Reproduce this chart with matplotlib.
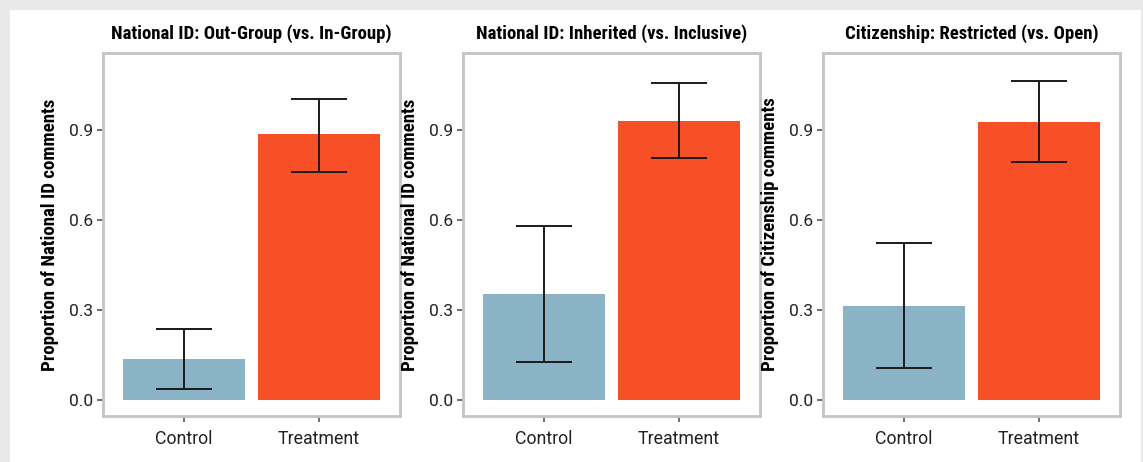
import matplotlib
matplotlib.use('Agg')
import matplotlib.pyplot as plt
from matplotlib.patches import Rectangle

# Data
titles = ['National ID: Out-Group (vs. In-Group)',
          'National ID: Inherited (vs. Inclusive)',
          'Citizenship: Restricted (vs. Open)']
ylabels = ['Proportion of National ID comments',
           'Proportion of National ID comments',
           'Proportion of Citizenship comments']
groups = ['Control', 'Treatment']
means = [[0.137, 0.887], [0.353, 0.930], [0.313, 0.927]]
lower = [[0.037, 0.760], [0.127, 0.807], [0.107, 0.793]]
upper = [[0.237, 1.005], [0.580, 1.057], [0.525, 1.063]]
yticks = [0.0, 0.3, 0.6, 0.9]

bar_colors = ['#8ab4c6', '#f75027']

W, H = 1143, 462
fig = plt.figure(figsize=(W / 100, H / 100), dpi=100)
fig.patch.set_facecolor('#e9e9e9')
# white card over the grey background
fig.patches.append(Rectangle((10 / W, 0), 1131 / W, (H - 10) / H,
                             transform=fig.transFigure, facecolor='white',
                             edgecolor='none', zorder=-10))

title_font = ['Roboto Condensed', 'Open Sans Condensed', 'Liberation Sans Narrow',
              'Liberation Sans']
axes_left = [103, 463, 823]
ax_w, ax_top, ax_bot = 297, 53, 416

for i in range(3):
    ax = fig.add_axes([axes_left[i] / W, (H - ax_bot) / H,
                       ax_w / W, (ax_bot - ax_top) / H])
    ax.set_facecolor('white')
    x = [1, 2]
    err = [[m - l for m, l in zip(means[i], lower[i])],
           [u - m for m, u in zip(means[i], upper[i])]]
    ax.bar(x, means[i], width=0.9, color=bar_colors, zorder=2)
    ax.errorbar(x, means[i], yerr=err, fmt='none', ecolor='#1a1a1a',
                elinewidth=1.4, capsize=20, capthick=1.4, zorder=3)
    ax.set_xlim(0.4, 2.6)
    ax.set_ylim(-0.053, 1.157)
    ax.set_xticks(x)
    ax.set_xticklabels(groups, fontsize=12.8, color='#222222', family='Roboto')
    ax.set_yticks(yticks)
    ax.set_yticklabels(['%.1f' % t for t in yticks], fontsize=12.5,
                       color='#222222', family='Roboto')
    ax.tick_params(axis='both', length=4, width=1.2, color='#555555', pad=3)
    ax.tick_params(axis='x', pad=6)
    for s in ax.spines.values():
        s.set_color('#c4c4c4')
        s.set_linewidth(2)
    ax.set_title(titles[i], fontsize=13.5, fontweight='bold',
                 family=title_font, pad=10)
    ax.set_ylabel(ylabels[i], fontsize=13.6, fontweight='bold',
                  family=title_font, labelpad=7)

fig.savefig('out.png', dpi=100, facecolor=fig.get_facecolor())
